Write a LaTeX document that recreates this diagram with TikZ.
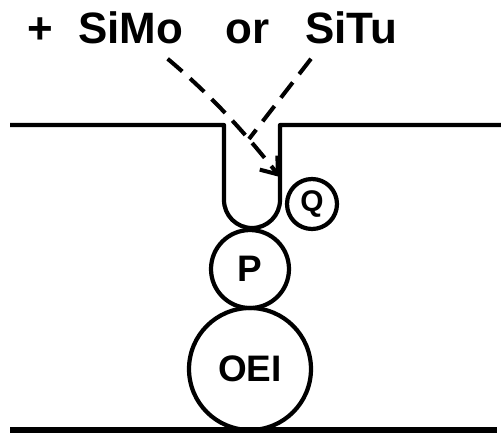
\documentclass[tikz,border=0pt]{standalone}
\usepackage{fontspec}
\setmainfont{Liberation Sans}
\usetikzlibrary{arrows.meta,positioning}

\begin{document}
\begin{tikzpicture}[
  x=0.02cm,y=-0.02cm,
  wall/.style={line width=2.4pt,line join=round},
  ground/.style={line width=3.2pt},
  ball/.style={circle,draw,line width=2.4pt,inner sep=0pt,outer sep=0pt,
               font=\fontsize{21}{24}\selectfont\bfseries},
  word/.style={anchor=base west,inner sep=0pt,font=\fontsize{25}{30}\selectfont\bfseries},
  flow/.style={line width=2.3pt,dash pattern=on 11pt off 6pt}
]
\useasboundingbox (0,0) rectangle (501,437);
% labels on top
\node[word] (plus) at (27,43) {+};
\node[word] (simo) at (78,43) {SiMo};
\node[word] (or) at (225,43) {or};
\node[word] (situ) at (305,43) {SiTu};
% membrane with the pocket
\draw[wall] (10,125) -- (224,125) -- (224,200)
  arc[start angle=180,end angle=360,radius=0.56cm] -- (280,125) -- (501,125);
\draw[ground] (10,430) -- (497,430);
% proteins
\node[ball,minimum size=2.44cm] (oei) at (250,369) {OEI};
\node[ball,minimum size=1.56cm,above=0pt of oei] (p) {P};
\node[ball,minimum size=1.0cm,font=\fontsize{17}{20}\selectfont\bfseries] (q) at (312,204) {Q};
% inhibitor path
\coordinate (site) at (280,177);
\coordinate (join) at (249,139);
\draw[flow,-{Straight Barb[length=3mm,width=4.5mm]}]
  ([shift={(-16,15)}]simo.south east) .. controls (213,97) and (245,133) .. (site);
\draw[flow] ([shift={(6,15)}]situ.south west) -- (join);
\end{tikzpicture}
\end{document}
